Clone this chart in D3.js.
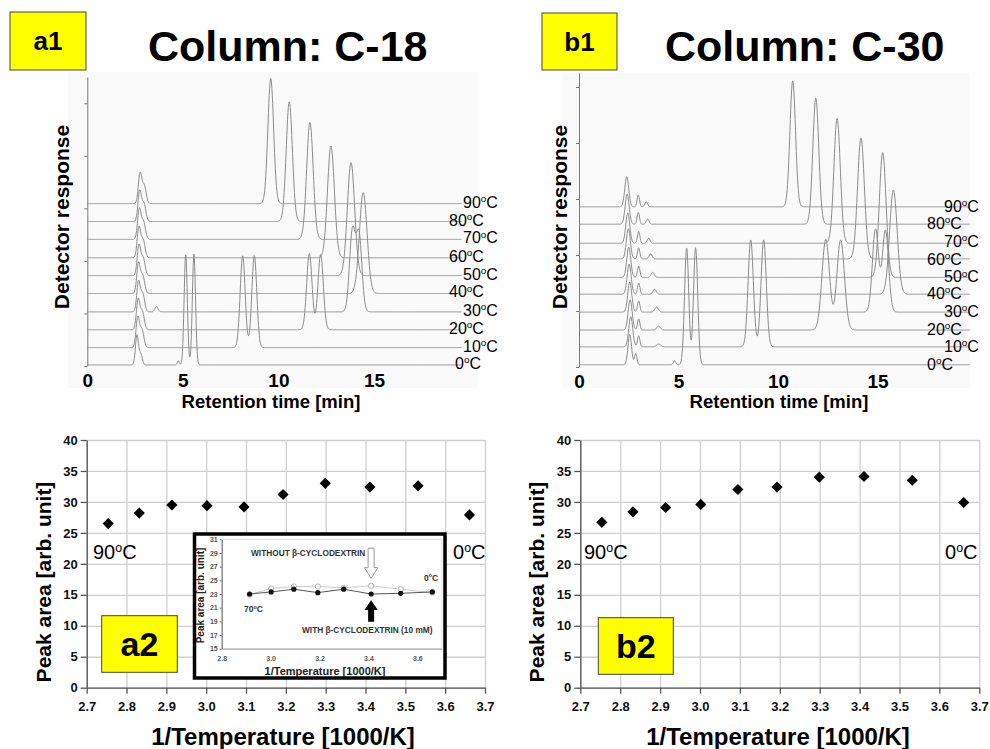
<!DOCTYPE html>
<html>
<head>
<meta charset="utf-8">
<script src="https://cdn.jsdelivr.net/npm/d3@7"></script>
<style>
  body { margin: 0; background: #fff; }
  text { font-family: "Liberation Sans", Arial, Helvetica, sans-serif; }
</style>
</head>
<body>
<svg id="fig" width="990" height="749"></svg>
<script>
// ---------- data ----------
// column temperatures, top trace first
var temps = [90, 80, 70, 60, 50, 40, 30, 20, 10, 0];

// chromatogram baselines (stacked offset, y units) and peaks [time min, height, sigma]
var c18Base = [3.09, 2.75, 2.41, 2.06, 1.72, 1.38, 1.03, 0.69, 0.35, 0.02];
var c18Peaks = [
  [[2.76, 0.57, 0.09], [2.98, 0.34, 0.1], [9.60, 2.38, 0.15]],
  [[2.74, 0.57, 0.09], [2.96, 0.34, 0.1], [10.57, 2.28, 0.16]],
  [[2.72, 0.57, 0.09], [2.94, 0.34, 0.1], [11.65, 2.23, 0.17]],
  [[2.70, 0.57, 0.09], [2.92, 0.34, 0.1], [12.75, 2.13, 0.18]],
  [[2.70, 0.57, 0.09], [2.92, 0.34, 0.1], [13.80, 2.15, 0.19]],
  [[2.68, 0.57, 0.09], [2.90, 0.34, 0.1], [14.44, 1.92, 0.2]],
  [[2.68, 0.57, 0.09], [2.90, 0.34, 0.1], [3.62, 0.10, 0.08], [13.87, 1.52, 0.15], [14.22, 1.45, 0.15]],
  [[2.66, 0.57, 0.09], [2.88, 0.34, 0.1], [11.62, 1.45, 0.14], [12.21, 1.43, 0.14]],
  [[2.64, 0.57, 0.09], [2.86, 0.34, 0.1], [8.13, 1.75, 0.13], [8.74, 1.75, 0.13]],
  [[2.60, 0.57, 0.08], [2.80, 0.20, 0.08], [4.76, 0.08, 0.05], [5.15, 2.11, 0.083], [5.58, 2.11, 0.083]]
];

var c30Base = [2.86, 2.55, 2.21, 1.93, 1.60, 1.30, 0.98, 0.66, 0.36, 0.04];
var c30Peaks = [
  [[2.40, 0.54, 0.1], [2.98, 0.21, 0.06], [3.38, 0.09, 0.07], [10.74, 2.25, 0.14]],
  [[2.42, 0.54, 0.1], [2.98, 0.21, 0.06], [3.45, 0.09, 0.07], [11.90, 2.25, 0.15]],
  [[2.45, 0.54, 0.1], [3.00, 0.21, 0.06], [3.50, 0.09, 0.07], [12.97, 2.23, 0.16]],
  [[2.48, 0.54, 0.1], [3.00, 0.20, 0.06], [3.60, 0.09, 0.08], [14.17, 2.16, 0.17]],
  [[2.50, 0.54, 0.1], [3.00, 0.20, 0.06], [3.70, 0.09, 0.08], [15.26, 2.23, 0.17]],
  [[2.52, 0.54, 0.1], [3.00, 0.20, 0.06], [3.80, 0.09, 0.08], [15.80, 1.86, 0.19]],
  [[2.55, 0.54, 0.1], [3.00, 0.20, 0.06], [3.90, 0.09, 0.09], [14.90, 1.48, 0.155], [15.40, 1.46, 0.155]],
  [[2.57, 0.54, 0.1], [3.00, 0.20, 0.06], [4.00, 0.07, 0.09], [12.40, 1.62, 0.19], [13.15, 1.61, 0.19]],
  [[2.60, 0.54, 0.1], [3.00, 0.20, 0.06], [4.00, 0.05, 0.1], [8.63, 1.91, 0.133], [9.28, 1.91, 0.133]],
  [[2.55, 0.54, 0.09], [2.85, 0.20, 0.06], [4.80, 0.07, 0.06], [5.41, 2.09, 0.106], [5.86, 2.09, 0.106]]
];
var timeTicks = [0, 5, 10, 15];

// peak area vs 1/T
var invT = [2.754, 2.832, 2.914, 3.002, 3.095, 3.193, 3.299, 3.411, 3.532, 3.661];
var areaC18 = [26.5, 28.2, 29.5, 29.4, 29.2, 31.2, 33.0, 32.4, 32.6, 27.9];
var areaC30 = [26.7, 28.4, 29.1, 29.6, 32.0, 32.4, 34.0, 34.1, 33.5, 29.9];
var areaTicks = [0, 5, 10, 15, 20, 25, 30, 35, 40];
var invTTicks = [2.7, 2.8, 2.9, 3.0, 3.1, 3.2, 3.3, 3.4, 3.5, 3.6, 3.7];

// inset: C-18 from 70 to 0 C, with / without beta-cyclodextrin
var insetT = [2.914, 3.002, 3.095, 3.193, 3.299, 3.411, 3.532, 3.661];
var insetWith = [23.0, 23.3, 23.7, 23.2, 23.7, 23.0, 23.1, 23.3];
var insetWithout = [22.9, 23.8, 24.1, 24.1, 23.9, 24.2, 23.7, 23.2];
var insetXTicks = [2.8, 3.0, 3.2, 3.4, 3.6];
var insetYTicks = [15, 17, 19, 21, 23, 25, 27, 29, 31];

var svg = d3.select("#fig");

// writes "90oC" with a raised small o
function degText(sel, num, fs) {
  sel.append("tspan").text(num);
  sel.append("tspan").attr("font-size", fs * 0.62).attr("dy", -fs * 0.36).text("o");
  sel.append("tspan").attr("dy", fs * 0.36).text("C");
}

function yellowBox(x, y, w, h, label, fs) {
  svg.append("rect").attr("x", x).attr("y", y).attr("width", w).attr("height", h)
    .attr("fill", "#ffff00").attr("stroke", "#444").attr("stroke-width", 1);
  svg.append("text").attr("x", x + w / 2).attr("y", y + h / 2 + fs * 0.36)
    .attr("text-anchor", "middle").attr("font-size", fs).attr("font-weight", "bold")
    .text(label);
}

// ---------- chromatograms ----------
function drawChrom(opt) {
  var x = d3.scaleLinear().domain([0, 20]).range(opt.xRange);
  var y = d3.scaleLinear().domain(opt.yDomain).range(opt.yRange);
  var g = svg.append("g");

  g.append("rect").attr("x", opt.bg[0]).attr("y", opt.bg[1])
    .attr("width", opt.bg[2]).attr("height", opt.bg[3]).attr("fill", "#fafafa");

  // y axis: ticks without labels
  var ya = g.append("g").attr("transform", "translate(" + x(0) + ",0)")
    .call(d3.axisLeft(y).tickValues([0, 1, 2, 3, 4, 5]).tickSize(3).tickSizeOuter(0).tickFormat(""));
  ya.selectAll("path,line").attr("stroke", "#777");

  // x axis labels
  var xa = g.append("g").attr("transform", "translate(0," + y(0) + ")")
    .call(d3.axisBottom(x).tickValues(timeTicks).tickSize(0).tickPadding(8).tickFormat(d3.format("d")));
  xa.select(".domain").remove();
  xa.selectAll("text").attr("font-size", 19).attr("font-weight", "bold").attr("fill", "#000")
    .style("font-family", "'Liberation Sans', Arial, sans-serif");

  var line = d3.line().x(function(d) { return x(d[0]); }).y(function(d) { return y(d[1]); });
  var times = d3.range(0, opt.tEnd, 0.02);

  opt.peaks.forEach(function(pk, i) {
    var pts = times.map(function(t) {
      var v = opt.base[i];
      pk.forEach(function(p) {
        v += p[1] * Math.exp(-Math.pow(t - p[0], 2) / (2 * p[2] * p[2]));
      });
      return [t, v];
    });
    g.append("path").attr("d", line(pts)).attr("fill", "none")
      .attr("stroke", "#8c8c8c").attr("stroke-width", 1);
  });

  // temperature labels at the right end of each trace
  temps.forEach(function(tc, i) {
    var t = g.append("text").attr("x", opt.labelX[i]).attr("y", y(opt.base[i]) + opt.labelDy[i])
      .attr("font-size", opt.labelFs).attr("fill", "#000");
    degText(t, tc, opt.labelFs);
  });

  g.append("text")
    .attr("transform", "translate(" + opt.yLabelX + "," + opt.yLabelY + ") rotate(-90)")
    .attr("text-anchor", "middle").attr("font-size", 21).attr("font-weight", "bold")
    .text("Detector response");
  g.append("text").attr("x", opt.xLabelX).attr("y", 408)
    .attr("text-anchor", "middle").attr("font-size", 18.5).attr("font-weight", "bold")
    .text("Retention time [min]");
}

drawChrom({
  xRange: [87.3, 469.5], yDomain: [0, 5.5], yRange: [366, 77],
  bg: [68, 72, 410, 316], tEnd: 19.6,
  base: c18Base, peaks: c18Peaks,
  labelX: [463, 449, 463, 449, 463, 449, 463, 449, 463, 455],
  labelDy: [4, 4, 4, 4, 4, 4, 4, 4, 4, 4], labelFs: 16,
  yLabelX: 69, yLabelY: 217, xLabelX: 271
});

drawChrom({
  xRange: [579, 977], yDomain: [0, 5.25], yRange: [367, 73],
  bg: [562, 73, 408, 315], tEnd: 19.65,
  base: c30Base, peaks: c30Peaks,
  labelX: [944, 927, 944, 927, 944, 927, 944, 927, 944, 927],
  labelDy: [5, 5, 3.5, 6, 5, 5, 5, 5, 5, 5], labelFs: 16,
  yLabelX: 567, yLabelY: 217, xLabelX: 779
});

// titles and panel tags
svg.append("text").attr("x", 148).attr("y", 61).attr("font-size", 43).attr("font-weight", "bold").text("Column: C-18");
svg.append("text").attr("x", 665).attr("y", 61).attr("font-size", 43).attr("font-weight", "bold").text("Column: C-30");
yellowBox(10, 12, 76, 58, "a1", 26);
yellowBox(542, 13, 75, 57, "b1", 26);

// ---------- peak area plots ----------
function drawArea(opt) {
  var x = d3.scaleLinear().domain([2.7, 3.7]).range(opt.xRange);
  var y = d3.scaleLinear().domain([0, 40]).range([687.7, 440]);
  var g = svg.append("g");
  var w = opt.xRange[1] - opt.xRange[0];

  // grid
  g.append("g").attr("transform", "translate(0,440)")
    .call(d3.axisBottom(x).tickValues(invTTicks).tickSize(y(0) - 440).tickFormat(""))
    .call(function(s) { s.select(".domain").remove(); s.selectAll("line").attr("stroke", "#cfcfcf").attr("stroke-width", 1.3); });
  g.append("g").attr("transform", "translate(" + opt.xRange[0] + ",0)")
    .call(d3.axisRight(y).tickValues(areaTicks).tickSize(w).tickFormat(""))
    .call(function(s) { s.select(".domain").remove(); s.selectAll("line").attr("stroke", "#cfcfcf").attr("stroke-width", 1.3); });

  var ya = g.append("g").attr("transform", "translate(" + opt.xRange[0] + ",0)")
    .call(d3.axisLeft(y).tickValues(areaTicks).tickSize(6).tickSizeOuter(0).tickPadding(3));
  var xa = g.append("g").attr("transform", "translate(0," + y(0) + ")")
    .call(d3.axisBottom(x).tickValues(invTTicks).tickSize(6).tickSizeOuter(0).tickPadding(8).tickFormat(d3.format(".1f")));
  [ya, xa].forEach(function(a) {
    a.selectAll("path,line").attr("stroke", "#555").attr("stroke-width", 1.3);
    a.selectAll("text").attr("font-size", 13).attr("font-weight", "bold").attr("fill", "#111")
      .style("font-family", "'Liberation Sans', Arial, sans-serif");
  });

  g.append("text")
    .attr("transform", "translate(" + opt.yLabelX + ",582) rotate(-90)")
    .attr("text-anchor", "middle").attr("font-size", 21).attr("font-weight", "bold")
    .text("Peak area [arb. unit]");
  g.append("text").attr("x", opt.xLabelX).attr("y", 745)
    .attr("text-anchor", "middle").attr("font-size", 24).attr("font-weight", "bold")
    .text("1/Temperature [1000/K]");

  var hot = g.append("text").attr("x", opt.hotX).attr("y", 559).attr("font-size", 20);
  degText(hot, 90, 20);
  var cold = g.append("text").attr("x", opt.coldX).attr("y", 559).attr("font-size", 20);
  degText(cold, 0, 20);

  return { g: g, x: x, y: y };
}

function drawDiamonds(p, vals) {
  p.g.selectAll("path.pt").data(vals).enter().append("path").attr("class", "pt")
    .attr("d", d3.symbol().type(d3.symbolSquare).size(62))
    .attr("transform", function(d, i) { return "translate(" + p.x(invT[i]) + "," + p.y(d) + ") rotate(45)"; })
    .attr("fill", "#000");
}

var pa = drawArea({ xRange: [86.7, 485], yLabelX: 50.5, xLabelX: 283, hotX: 93, coldX: 453 });
var pb = drawArea({ xRange: [580.3, 979.3], yLabelX: 544, xLabelX: 778, hotX: 584, coldX: 945 });
drawDiamonds(pb, areaC30);

// ---------- inset in a2 ----------
var ins = pa.g.append("g");
ins.append("rect").attr("x", 194.5).attr("y", 534).attr("width", 250.5).attr("height", 144)
  .attr("fill", "#fff").attr("stroke", "#000").attr("stroke-width", 3.5);

var ix = d3.scaleLinear().domain([2.8, 3.7]).range([221.7, 441.8]);
var iy = d3.scaleLinear().domain([15, 31]).range([648.7, 539.3]);

ins.append("rect").attr("x", ix(2.8)).attr("y", iy(31)).attr("width", ix(3.7) - ix(2.8)).attr("height", iy(15) - iy(31))
  .attr("fill", "none").attr("stroke", "#e2e2e2").attr("stroke-width", 1);
var iya = ins.append("g").attr("transform", "translate(" + ix(2.8) + ",0)")
  .call(d3.axisLeft(iy).tickValues(insetYTicks).tickSize(2).tickSizeOuter(0).tickPadding(2));
var ixa = ins.append("g").attr("transform", "translate(0," + iy(15) + ")")
  .call(d3.axisBottom(ix).tickValues(insetXTicks).tickSize(0).tickPadding(7).tickFormat(d3.format(".1f")));
ixa.select(".domain").attr("stroke", "#999");
iya.selectAll("path,line").attr("stroke", "#666");
[iya, ixa].forEach(function(a) {
  a.selectAll("text").attr("font-size", 7).attr("font-weight", "bold").attr("fill", "#555")
    .style("font-family", "'Liberation Sans', Arial, sans-serif");
});

var iline = d3.line().x(function(d, i) { return ix(insetT[i]); }).y(function(d) { return iy(d); });
ins.append("path").attr("d", iline(insetWithout)).attr("fill", "none").attr("stroke", "#c4c4c4").attr("stroke-width", 0.9);
ins.append("path").attr("d", iline(insetWith)).attr("fill", "none").attr("stroke", "#444").attr("stroke-width", 0.9);
ins.selectAll("circle.open").data(insetWithout).enter().append("circle").attr("class", "open")
  .attr("cx", function(d, i) { return ix(insetT[i]); }).attr("cy", function(d) { return iy(d); })
  .attr("r", 2.6).attr("fill", "#fff").attr("stroke", "#aaa").attr("stroke-width", 0.9);
ins.selectAll("circle.fill").data(insetWith).enter().append("circle").attr("class", "fill")
  .attr("cx", function(d, i) { return ix(insetT[i]); }).attr("cy", function(d) { return iy(d); })
  .attr("r", 2.6).attr("fill", "#111");

// arrows pointing at the 10 C points
var ax = ix(3.411);
ins.append("path").attr("fill", "#fff").attr("stroke", "#999").attr("stroke-width", 1)
  .attr("d", "M" + (ax - 3) + "," + iy(29.7) + "H" + (ax + 3) + "V" + iy(26.85) + "H" + (ax + 6.7) +
    "L" + ax + "," + iy(25.3) + "L" + (ax - 6.7) + "," + iy(26.85) + "H" + (ax - 3) + "Z");
ins.append("path").attr("fill", "#000")
  .attr("d", "M" + (ax - 3) + "," + iy(18.95) + "H" + (ax + 3) + "V" + iy(20.66) + "H" + (ax + 6.7) +
    "L" + ax + "," + iy(22.1) + "L" + (ax - 6.7) + "," + iy(20.66) + "H" + (ax - 3) + "Z");

ins.append("text").attr("x", 251).attr("y", 555.6).attr("font-size", 8.3).attr("font-weight", "bold")
  .attr("fill", "#333").text("WITHOUT \u03b2-CYCLODEXTRIN");
ins.append("text").attr("x", 302).attr("y", 633).attr("font-size", 8.3).attr("font-weight", "bold")
  .attr("fill", "#333").text("WITH \u03b2-CYCLODEXTRIN (10 mM)");
var i70 = ins.append("text").attr("x", 244).attr("y", 612).attr("font-size", 8.5).attr("font-weight", "bold").attr("fill", "#333");
degText(i70, 70, 8.5);
var i0 = ins.append("text").attr("x", 424).attr("y", 580.5).attr("font-size", 8.5).attr("font-weight", "bold").attr("fill", "#333");
degText(i0, 0, 8.5);
ins.append("text").attr("transform", "translate(204,595.5) rotate(-90)")
  .attr("text-anchor", "middle").attr("font-size", 10).attr("font-weight", "bold").attr("fill", "#222")
  .text("Peak area [arb. unit]");
ins.append("text").attr("x", 325).attr("y", 674.5).attr("text-anchor", "middle")
  .attr("font-size", 11).attr("font-weight", "bold").attr("fill", "#222")
  .text("1/Temperature [1000/K]");

drawDiamonds(pa, areaC18);

yellowBox(101.7, 615.7, 75.6, 56.6, "a2", 34);
yellowBox(598.3, 617.7, 75, 56.6, "b2", 34);
</script>
</body>
</html>
